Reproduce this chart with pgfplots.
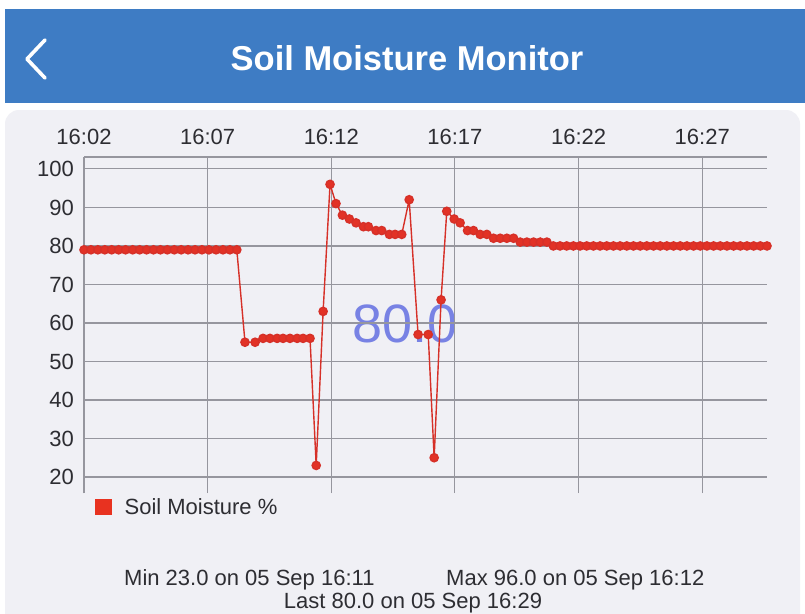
\documentclass[border=0pt]{standalone}
\usepackage{pgfplots}
\pgfplotsset{compat=1.18}
\usepackage{fontspec}
\setmainfont{Liberation Sans}
\definecolor{hdr}{RGB}{62,124,196}
\definecolor{cardbg}{RGB}{240,240,245}
\definecolor{gridc}{RGB}{150,150,158}
\definecolor{tickc}{RGB}{45,45,50}
\definecolor{linered}{RGB}{214,48,40}
\definecolor{dotred}{RGB}{226,50,38}
\definecolor{legred}{RGB}{232,50,32}
\definecolor{bigtxt}{RGB}{120,130,228}
\begin{document}
\begin{tikzpicture}
\fill[white] (0,0) rectangle (805bp,-614bp);
\fill[hdr] (5bp,-9bp) rectangle (805bp,-103bp);
\draw[white, line width=3.6bp, line cap=round, line join=round] (45bp,-40bp) -- (27bp,-59bp) -- (45bp,-78bp);
\node[text=white, font=\fontsize{34.5bp}{40bp}\selectfont\bfseries, anchor=base, inner sep=0pt] at (407bp,-70bp) {Soil Moisture Monitor};
\fill[cardbg, rounded corners=14bp] (5bp,-110bp) rectangle (800bp,-650bp);
\node[text=bigtxt, font=\fontsize{54bp}{60bp}\selectfont, anchor=base, inner sep=0pt] at (405bp,-342bp) {80.0};
\begin{axis}[
  at={(84bp,-157bp)}, anchor=north west,
  scale only axis, width=683bp, height=336bp,
  xmin=2, xmax=29.62, ymin=15.84, ymax=103.1,
  axis x line*=top, axis y line*=left,
  axis line style={draw=gridc, line width=1.2bp},
  xtick={2,7,12,17,22,27},
  xticklabels={16:02,16:07,16:12,16:17,16:22,16:27},
  ytick={20,30,40,50,60,70,80,90,100},
  grid=major,
  major grid style={draw=gridc, line width=1.1bp},
  major tick length=0pt,
  /pgf/number format/assume math mode=true,
  ticklabel style={font=\fontsize{22bp}{26bp}\selectfont, text=tickc, inner sep=0pt},
  xticklabel shift=12bp,
  yticklabel shift=10bp,
  clip=false,
  legend style={at={(0.0161,-0.0417)}, anchor=west, draw=none, fill=none, inner sep=0pt,
    font=\fontsize{22bp}{26bp}\selectfont, text=tickc, column sep=13bp, nodes={inner sep=0pt}},
]
\addplot[color=linered, line width=1.4bp, mark=*, mark size=4.1bp,
  mark options={fill=dotred, draw=none},
  legend image code/.code={\fill[legred] (0bp,-7bp) rectangle (15bp,7bp);}]
coordinates {
(2.00,79)(2.28,79)(2.56,79)(2.84,79)(3.12,79)(3.40,79)(3.68,79)(3.97,79)(4.25,79)(4.53,79)(4.81,79)(5.09,79)(5.37,79)(5.65,79)(5.93,79)(6.21,79)(6.49,79)(6.77,79)(7.05,79)(7.34,79)(7.62,79)(7.90,79)(8.18,79)
(8.51,55)(8.92,55)(9.24,56)(9.52,56)(9.81,56)(10.05,56)(10.33,56)(10.62,56)(10.86,56)(11.14,56)
(11.39,23)(11.67,63)(11.95,96)(12.19,91)(12.45,88)(12.73,87)(13.00,86)(13.30,85)(13.50,85)(13.81,84)(14.04,84)(14.35,83)(14.58,83)(14.85,83)(15.15,92)(15.51,57)(15.92,57)(16.16,25)(16.44,66)(16.67,89)(16.97,87)(17.21,86)(17.51,84)(17.75,84)(18.02,83)(18.29,83)(18.56,82)(18.83,82)(19.10,82)(19.37,82)(19.64,81)(19.91,81)(20.18,81)(20.45,81)(20.72,81)
(20.98,80)(21.25,80)(21.52,80)(21.79,80)(22.06,80)(22.33,80)(22.60,80)(22.87,80)(23.14,80)(23.41,80)(23.68,80)(23.95,80)(24.22,80)(24.49,80)(24.76,80)(25.03,80)(25.30,80)(25.57,80)(25.84,80)(26.11,80)(26.38,80)(26.65,80)(26.92,80)(27.19,80)(27.46,80)(27.73,80)(28.00,80)(28.27,80)(28.54,80)(28.81,80)(29.08,80)(29.35,80)(29.62,80)
};
\addlegendentry{Soil Moisture \%}
\end{axis}
\node[text=tickc, font=\fontsize{22bp}{26bp}\selectfont, anchor=base west, inner sep=0pt] at (124bp,-585bp) {Min 23.0 on 05 Sep 16:11};
\node[text=tickc, font=\fontsize{22bp}{26bp}\selectfont, anchor=base west, inner sep=0pt] at (446bp,-585bp) {Max 96.0 on 05 Sep 16:12};
\node[text=tickc, font=\fontsize{22bp}{26bp}\selectfont, anchor=base, inner sep=0pt] at (413bp,-608bp) {Last 80.0 on 05 Sep 16:29};
\pgfresetboundingbox
\path[use as bounding box] (0,0) rectangle (805bp,-614bp);
\end{tikzpicture}
\end{document}
